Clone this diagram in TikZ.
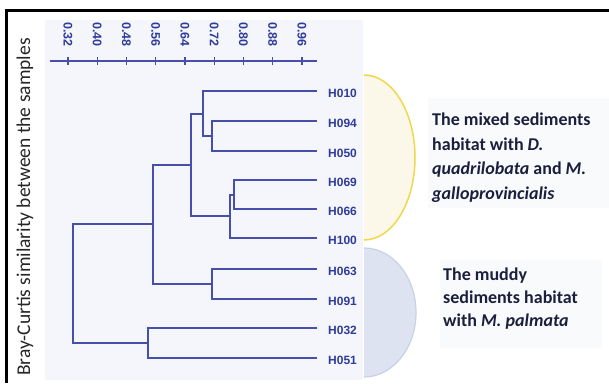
\documentclass[tikz,border=0pt]{standalone}
\usepackage{fontspec}
\setmainfont{Carlito}
\newfontfamily\numfont{Liberation Sans}
\definecolor{dendro}{HTML}{4650AC}
\definecolor{labelblue}{HTML}{2F3C9A}
\definecolor{plotbg}{HTML}{F4F6FB}
\definecolor{creamfill}{HTML}{FBF8EA}
\definecolor{yellowline}{HTML}{F0D84A}
\definecolor{mudfill}{HTML}{DDE3F1}
\definecolor{mudline}{HTML}{C9D1E6}
\definecolor{boxbg}{HTML}{F9FAFC}
\definecolor{inktext}{HTML}{1B1E3C}
\begin{document}
\begin{tikzpicture}[x=1pt,y=-1pt,
  branch/.style={draw=dendro, line width=1.8pt, line join=miter},
  leaflabel/.style={anchor=west, inner sep=0pt, text=labelblue,
    font=\numfont\bfseries\fontsize{12}{12}\selectfont},
  ticklabel/.style={rotate=-90, anchor=west, inner sep=0pt, text=labelblue,
    font=\numfont\bfseries\fontsize{12.5}{13}\selectfont},
  habitat/.style={anchor=north west, inner sep=0pt, align=left, text=inktext,
    font=\bfseries\fontsize{18}{24.7}\selectfont},
  ytitle/.style={rotate=90, inner sep=0pt, text=black!85,
    font=\fontsize{19.5}{20}\selectfont}]
\useasboundingbox (0,0) rectangle (609,383);
\fill[white] (0,0) rectangle (609,383);

% plotting area and habitat groupings
\fill[plotbg] (45,20) rectangle (363,380);
\filldraw[fill=creamfill, draw=yellowline, line width=1.5pt]
  (364,75) arc[start angle=-90, end angle=90, x radius=51, y radius=82.5];
\filldraw[fill=mudfill, draw=mudline, line width=1.2pt]
  (364,248) arc[start angle=-90, end angle=90, x radius=52, y radius=64.5];
\fill[boxbg] (428,98) rectangle (609,208);
\fill[boxbg] (440,260) rectangle (602,348);

% similarity axis
\draw[branch] (50,61) -- (317,61);
\foreach \v [count=\i from 0] in {0.32,0.40,0.48,0.56,0.64,0.72,0.80,0.88,0.96} {
  \pgfmathsetmacro{\tx}{68+29.25*\i}
  \draw[branch, line width=1.4pt] (\tx,57) -- (\tx,65);
  \node[ticklabel] (tick\i) at (\tx,22) {\v};
}

% leaves
\foreach \name/\yy [count=\i] in {H010/91,H094/121,H050/151,H069/180,H066/209,
                                  H100/238,H063/269,H091/299,H032/328,H051/358} {
  \coordinate (l\i) at (317,\yy);
  \node[leaflabel] (lab\i) at (328,\yy+2.5) {\name};
}

% merge points (x = similarity level, y = centre of the two children)
\coordinate (m1) at (212,136);
\coordinate (m2) at (203,114);
\coordinate (m3) at (234,195);
\coordinate (m4) at (230,216);
\coordinate (m5) at (191,165);
\coordinate (m6) at (212,284);
\coordinate (m7) at (153,224);
\coordinate (m8) at (148,343);
\coordinate (m9) at (73,284);

\draw[branch] (l2) -| (m1) |- (l3);
\draw[branch] (l1) -| (m2) |- (m1);
\draw[branch] (l4) -| (m3) |- (l5);
\draw[branch] (m3) -| (m4) |- (l6);
\draw[branch] (m2) -| (m5) |- (m4);
\draw[branch] (l7) -| (m6) |- (l8);
\draw[branch] (m5) -| (m7) |- (m6);
\draw[branch] (l9) -| (m8) |- (l10);
\draw[branch] (m7) -| (m9) |- (m8);

% texts
\node[ytitle] (ytitle) at (25,207) {Bray-Curtis similarity between the samples};
\node[habitat] (mixed) at (432,112.5)
  {The mixed sediments\\habitat with \textit{D.}\\\textit{quadrilobata} and \textit{M.}\\\textit{galloprovincialis}};
\node[habitat, font=\bfseries\fontsize{18}{23}\selectfont] (muddy) at (443,267.5)
  {The muddy\\sediments habitat\\with \textit{M. palmata}};

% outer frame
\draw[black, line width=3pt] (6.5,383) -- (6.5,10.8) -- (609,10.8);
\end{tikzpicture}
\end{document}
